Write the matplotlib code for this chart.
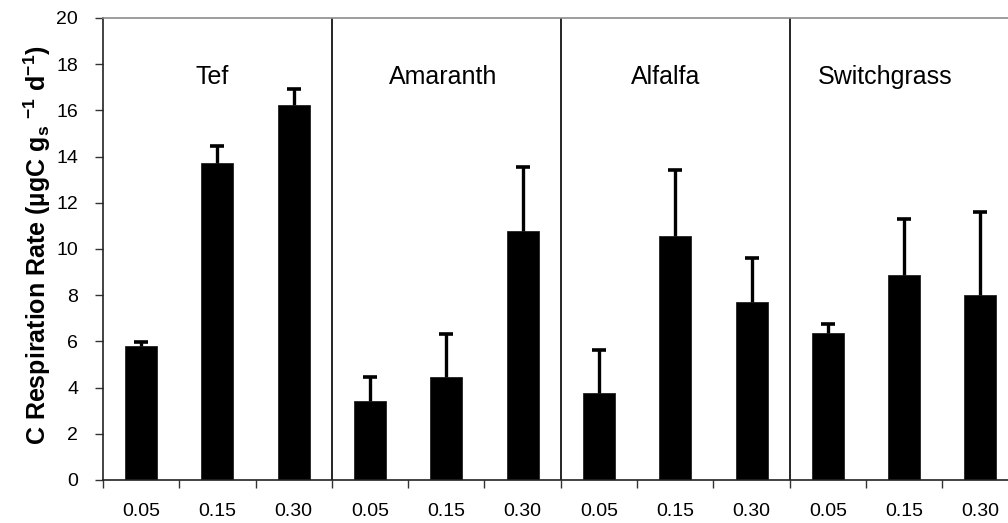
import matplotlib
matplotlib.use("Agg")
import matplotlib.pyplot as plt
import numpy as np

plt.rcParams["font.family"] = ["Liberation Sans", "DejaVu Sans"]
plt.rcParams["mathtext.fontset"] = "custom"
plt.rcParams["mathtext.rm"] = "Liberation Sans"
plt.rcParams["mathtext.bf"] = "Liberation Sans:bold"
plt.rcParams["mathtext.it"] = "Liberation Sans:italic"

# Crops and water-potential levels
crops = ["Tef", "Amaranth", "Alfalfa", "Switchgrass"]
levels = ["0.05", "0.15", "0.30"]

# Mean respiration rate per crop x level, and upper error (SE)
tef = [5.78, 13.72, 16.24]
amaranth = [3.40, 4.44, 10.77]
alfalfa = [3.75, 10.56, 7.69]
switchgrass = [6.35, 8.86, 8.03]

tef_err = [0.19, 0.76, 0.70]
amaranth_err = [1.08, 1.88, 2.80]
alfalfa_err = [1.88, 2.86, 1.94]
switchgrass_err = [0.40, 2.45, 3.58]

means = tef + amaranth + alfalfa + switchgrass
errs = tef_err + amaranth_err + alfalfa_err + switchgrass_err
tick_labels = levels * len(crops)

W, H = 1008, 523
fig = plt.figure(figsize=(W / 100, H / 100), dpi=100)
ax = fig.add_axes([103 / W, (H - 480) / H, 915.6 / W, 462 / H])

n = len(means)
x = np.arange(n) + 0.5
ax.bar(x, means, width=0.42, color="black", edgecolor="#222222", linewidth=0.6, zorder=2)
eb = ax.errorbar(x, means, yerr=[np.zeros(n), errs], fmt="none", ecolor="black",
                 elinewidth=2.4, capsize=5.2, capthick=2.6, zorder=3)
# only the upper whisker carries a cap
caps = eb[1]
if len(caps) == 2:
    caps[0].set_visible(False)

ax.set_xlim(0, n)
ax.set_ylim(0, 20)
ax.set_yticks(np.arange(0, 21, 2))
ax.set_yticklabels([str(v) for v in range(0, 21, 2)], fontsize=14)

# group boundaries as major ticks, level labels centred under bars
ax.set_xticks(np.arange(0, n + 1))
ax.set_xticklabels([])
ax.set_xticks(x, minor=True)
ax.set_xticklabels(tick_labels, minor=True, fontsize=14)
ax.tick_params(axis="x", which="major", direction="out", length=6, width=1, color="#333333")
ax.tick_params(axis="x", which="minor", length=0, pad=16.5)
ax.tick_params(axis="y", direction="out", length=6, width=1, color="#333333", pad=12)

for s in ["left", "bottom"]:
    ax.spines[s].set_color("#222222")
    ax.spines[s].set_linewidth(1.2)
ax.spines["top"].set_color("#8c8c8c")
ax.spines["top"].set_linewidth(1.2)
ax.spines["right"].set_visible(False)

for b in [3, 6, 9]:
    ax.axvline(b, color="black", linewidth=1.2, zorder=1)

label_x = [1.43, 4.46, 7.37, 10.25]
for name, lx in zip(crops, label_x):
    ax.text(lx, 17.45, name, fontsize=18, ha="center", va="center")

fig.text(37 / W, (H - 245) / H,
         r"C Respiration Rate (µgC g$_{\mathbf{s}}$ $^{\mathbf{-1}}$ d$^{\mathbf{-1}}$)",
         rotation=90, ha="center", va="center", fontsize=18, fontweight="bold")

fig.savefig("out.png", dpi=100)
